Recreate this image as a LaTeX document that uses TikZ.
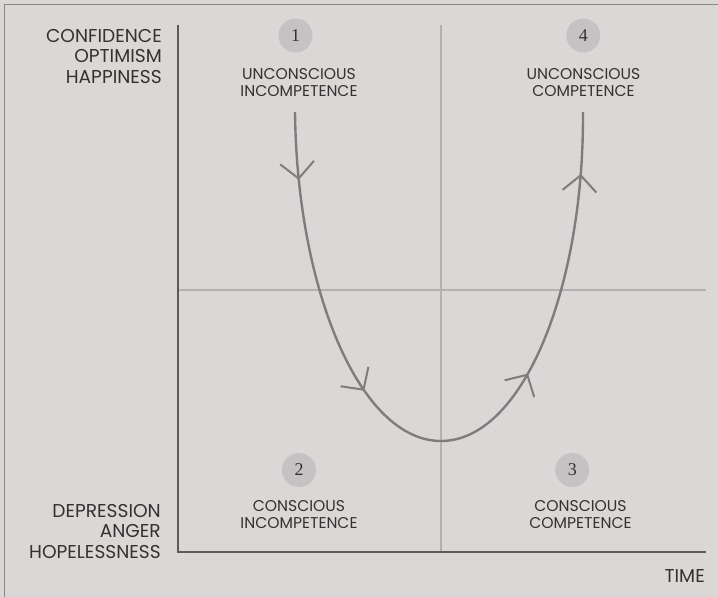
\documentclass[tikz,border=0pt]{standalone}
\usepackage{fontspec}
\setmainfont{Poppins}
\newfontfamily\numfont{Liberation Serif}
\usetikzlibrary{arrows.meta,decorations.markings}

\definecolor{bg}{RGB}{220,215,215}
\definecolor{framegray}{RGB}{135,135,135}
\definecolor{axisgray}{RGB}{90,90,90}
\definecolor{midgray}{RGB}{178,178,178}
\definecolor{curvegray}{RGB}{125,125,125}
\definecolor{badgegray}{RGB}{196,194,194}
\definecolor{ink}{RGB}{50,50,50}

\tikzset{
  axisline/.style={draw=axisgray, line width=2.4pt},
  midline/.style={draw=midgray, line width=2pt},
  badge/.style={circle, fill=badgegray, minimum size=34pt, inner sep=0pt,
                text=ink, font=\numfont\fontsize{18}{18}\selectfont},
  stage/.style={align=center, inner sep=0pt, text=ink,
                font=\fontsize{15.6}{17}\selectfont},
  mood/.style={align=right, inner sep=0pt, anchor=east, text=ink,
               font=\fontsize{18.6}{20.5}\selectfont},
  flowtip/.tip={Straight Barb[length=16pt, width=34pt, line width=2pt]},
}

\begin{document}
\begin{tikzpicture}[x=1pt, y=-1pt]
  % canvas and frame
  \fill[bg] (0,0) rectangle (718,597);
  \useasboundingbox (0,0) rectangle (718,597);
  \draw[framegray, line width=1.5pt] (4.5,597) -- (4.5,4.5) -- (718,4.5);

  % axis corner points
  \coordinate (origin) at (178,552);
  \coordinate (ytop) at (178,25);
  \coordinate (xend) at (706,552);
  \coordinate (vtop) at (441,25);
  \coordinate (vbot) at (441,552);
  \coordinate (hleft) at (178,289.5);
  \coordinate (hright) at (706,289.5);

  % quadrant dividers
  \draw[midline] (vtop) -- (vbot);
  \draw[midline] (hleft) -- (hright);

  % learning curve
  \coordinate (cstart) at (295,112);
  \coordinate (cbottom) at (441,441);
  \coordinate (cend) at (583,112);
  \draw[curvegray, line width=2.4pt,
        postaction={decorate},
        decoration={markings,
          mark=at position 68pt with {\arrow{flowtip}},
          mark=at position 291pt with {\arrow{flowtip}},
          mark=at position -270pt with {\arrow{flowtip}},
          mark=at position -62pt with {\arrow{flowtip}}}]
    (cstart) .. controls (297,290) and (360,441) .. (cbottom)
             .. controls (522,441) and (584,290) .. (cend);

  % axes
  \draw[axisline] (ytop) -- (origin) -- (xend);

  % vertical axis labels
  \node[mood] (up) at (162,56) {CONFIDENCE\\OPTIMISM\\HAPPINESS};
  \node[mood] (down) at (161,531) {DEPRESSION\\ANGER\\HOPELESSNESS};
  \node[text=ink, inner sep=0pt, anchor=east,
        font=\fontsize{18.6}{18.6}\selectfont] (time) at (705,576) {TIME};

  % stages
  \node[badge] (b1) at (295.5,35.5) {1};
  \node[stage] (s1) at (299,82.3) {UNCONSCIOUS\\INCOMPETENCE};
  \node[badge] (b4) at (583.3,35.5) {4};
  \node[stage] (s4) at (583.5,82.3) {UNCONSCIOUS\\COMPETENCE};
  \node[badge] (b2) at (299,470) {2};
  \node[stage] (s2) at (299,514.5) {CONSCIOUS\\INCOMPETENCE};
  \node[badge] (b3) at (572.3,470) {3};
  \node[stage] (s3) at (580.5,514.5) {CONSCIOUS\\COMPETENCE};
\end{tikzpicture}
\end{document}
